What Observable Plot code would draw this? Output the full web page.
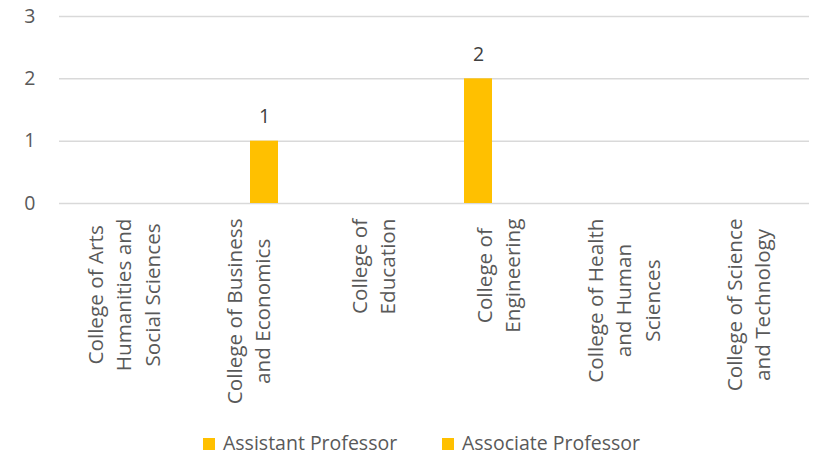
<!DOCTYPE html>
<html>
<head>
<meta charset="utf-8">
<script src="https://cdn.jsdelivr.net/npm/d3@7"></script>
<script src="https://cdn.jsdelivr.net/npm/@observablehq/plot@0.6"></script>
<style>
  body { margin: 0; background: #fff; font-family: 'Open Sans', sans-serif; }
  #chart svg { display: block; }
  #legend { position: relative; width: 813px; height: 29px; font-size: 19.5px; color: #595959; }
  #legend .sw { position: absolute; top: 10px; width: 12px; height: 12px; background: #FFC000; }
  #legend .lb { position: absolute; top: 0; height: 30px; line-height: 30px; white-space: nowrap; }
</style>
</head>
<body>
<div id="chart"></div>
<div id="legend">
  <div class="sw" style="left:203px"></div><div class="lb" style="left:223px">Assistant Professor</div>
  <div class="sw" style="left:442px"></div><div class="lb" style="left:462px">Associate Professor</div>
</div>
<script>
const categories = [
  "College of Arts Humanities and Social Sciences",
  "College of Business and Economics",
  "College of Education",
  "College of Engineering",
  "College of Health and Human Sciences",
  "College of Science and Technology"
];
const categoryLines = [
  ["College of Arts", "Humanities and", "Social Sciences"],
  ["College of Business", "and Economics"],
  ["College of", "Education"],
  ["College of", "Engineering"],
  ["College of Health", "and Human", "Sciences"],
  ["College of Science", "and Technology"]
];
const series = ["Assistant Professor", "Associate Professor"];
const assistant = [null, null, null, 2, null, null];
const associate = [null, 1, null, null, null, null];
const yTicks = [0, 1, 2, 3];

const rows = categories.flatMap((c, i) => [
  {college: c, series: series[0], value: assistant[i]},
  {college: c, series: series[1], value: associate[i]}
]).filter(d => d.value != null);

const FONT = 19.5;
const CAT_FONT = 20.7;
const ctx = document.createElement("canvas").getContext("2d");
ctx.font = `${CAT_FONT}px 'Open Sans'`;
const maxLen = categoryLines.map(ls => Math.max(...ls.map(l => ctx.measureText(l).width)));

const labelMarks = categories.map((c, i) =>
  Plot.text([c], {
    fx: d => d,
    frameAnchor: "bottom",
    text: () => categoryLines[i].join("\n"),
    rotate: -90,
    textAnchor: "middle",
    lineAnchor: "middle",
    lineHeight: 1.38,
    dy: 15 + maxLen[i] / 2,
    fill: "#595959",
    fontSize: CAT_FONT
  })
);

const chart = Plot.plot({
  width: 813,
  height: 428,
  marginLeft: 56,
  marginRight: 2,
  marginTop: 16,
  marginBottom: 225,
  style: {fontFamily: "'Open Sans', sans-serif", background: "#fff"},
  fx: {domain: categories, padding: 0, axis: null, label: null},
  x: {domain: series, paddingInner: 0.2115, paddingOuter: 0.834, axis: null, label: null},
  y: {domain: [0, 3], axis: null, label: null},
  color: {domain: series, range: ["#FFC000", "#FFC000"]},
  marks: [
    Plot.ruleY(yTicks, {stroke: "#d9d9d9", strokeWidth: 1.5}),
    Plot.barY(rows, {fx: "college", x: "series", y: "value", fill: "series"}),
    Plot.text(rows, {fx: "college", x: "series", y: "value", text: d => String(d.value), dy: -24, fill: "#404040", fontSize: FONT}),
    Plot.axisY({ticks: yTicks, tickSize: 0, tickPadding: 24, fontSize: FONT, fill: "#595959", label: null, tickFormat: d => String(d)}),
    ...labelMarks
  ]
});
document.getElementById("chart").appendChild(chart);
</script>
</body>
</html>
